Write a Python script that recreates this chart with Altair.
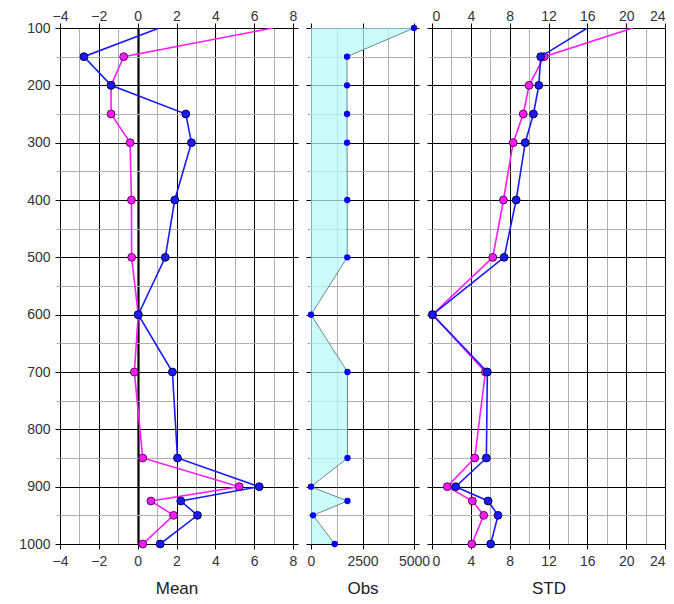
import altair as alt
import pandas as pd

# ---------------- data ----------------
LEVELS = [100, 150, 200, 250, 300, 400, 500, 600, 700, 850, 900, 925, 950, 1000]
MEAN_BLUE = [1.11, -2.77, -1.37, 2.48, 2.77, 1.91, 1.42, 0.03, 1.79, 2.05, 6.26, 2.22, 3.08, 1.16]
MEAN_MAGENTA = [6.97, -0.72, -1.37, -1.37, -0.39, -0.32, -0.31, 0.03, -0.17, 0.26, 5.23, 0.68, 1.85, 0.26]
STD_BLUE = [16.0, 11.2, 11.0, 10.45, 9.6, 8.67, 7.43, 0.05, 5.7, 5.6, 2.44, 5.78, 6.8, 6.05]
STD_MAGENTA = [20.7, 11.55, 10.0, 9.4, 8.36, 7.36, 6.26, 0.05, 5.5, 4.4, 1.58, 4.16, 5.33, 4.1]
OBS = [5000, 1750, 1750, 1750, 1750, 1760, 1760, 0, 1770, 1770, 0, 1770, 100, 1150]

Y_MAJOR = [100, 200, 300, 400, 500, 600, 700, 800, 900, 1000]
Y_MINOR = [150, 250, 350, 450, 550, 650, 750, 850, 950]
MEAN_MAJOR = [-4, -2, 0, 2, 4, 6, 8]
MEAN_MINOR = [-3, -1, 1, 3, 5, 7]
OBS_MAJOR = [0, 2500, 5000]
OBS_MINOR = [1250, 3750]
STD_MAJOR = [0, 4, 8, 12, 16, 20, 24]
STD_MINOR = [2, 6, 10, 14, 18, 22]

prof = pd.DataFrame({
    "level": LEVELS,
    "mean_blue": MEAN_BLUE,
    "mean_magenta": MEAN_MAGENTA,
    "std_blue": STD_BLUE,
    "std_magenta": STD_MAGENTA,
    "obs": OBS,
})

FONT = "Liberation Sans"
TXT = "#333333"
MINOR = "#b0b0b0"
BLUE = "#1a1aff"
MAGENTA = "#ff1aff"
LFS = 14
H = 516


def yscale():
    return alt.Scale(domain=[100, 1000], reverse=True, nice=False, zero=False)


def axis_layers(xf, xdomain, major, minor, title, y_labels, top_labels,
                zero_line=False, flush=False, right_ticks=5):
    xs = alt.Scale(domain=xdomain, nice=False, zero=False)
    ghost = alt.Chart(prof).mark_point(opacity=0)
    layers = []
    # minor grid
    layers.append(ghost.encode(
        x=alt.X(f"{xf}:Q", scale=xs, axis=alt.Axis(
            orient="bottom", values=minor, grid=True, gridColor=MINOR, gridWidth=1,
            labels=False, ticks=False, domain=False, title=None)),
        y=alt.Y("level:Q", scale=yscale(), axis=alt.Axis(
            orient="left", values=Y_MINOR, grid=True, gridColor=MINOR, gridWidth=1,
            labels=False, ticks=True, tickColor=MINOR, tickSize=4, domain=False, title=None)),
    ))
    # major grid, bottom labels, left labels
    layers.append(ghost.encode(
        x=alt.X(f"{xf}:Q", scale=xs, axis=alt.Axis(
            orient="bottom", values=major, grid=True, gridColor="black", gridWidth=1,
            ticks=True, tickColor="black", tickSize=5, labels=True, labelPadding=5,
            labelFont=FONT, labelFontSize=LFS, labelColor=TXT,
            labelFlush=flush, labelOverlap=False, labelBound=False, format="d",
            domain=False, title=title, titlePadding=12, titleFontSize=17,
            titleFont=FONT, titleFontWeight="normal", titleColor="#222222")),
        y=alt.Y("level:Q", scale=yscale(), axis=alt.Axis(
            orient="left", values=Y_MAJOR, grid=True, gridColor="black", gridWidth=1,
            ticks=True, tickColor="black", tickSize=5, labels=y_labels, labelPadding=5,
            labelFont=FONT, labelFontSize=LFS, labelColor=TXT,
            labelFlush=False, labelOverlap=False, format="d", domain=False, title=None)),
    ))
    # top & right ticks
    layers.append(ghost.encode(
        x=alt.X(f"{xf}:Q", scale=xs, axis=alt.Axis(
            orient="top", values=major, grid=False, ticks=True, tickColor="black",
            tickSize=5, labels=top_labels, labelPadding=0, labelFlush=flush,
            labelFont=FONT, labelFontSize=LFS, labelColor=TXT,
            labelOverlap=False, labelBound=False, format="d", domain=False, title=None)),
        y=alt.Y("level:Q", scale=yscale(), axis=alt.Axis(
            orient="right", values=Y_MAJOR, grid=False, ticks=right_ticks > 0, tickColor="black",
            tickSize=max(right_ticks, 1), labels=False, domain=False, title=None)),
    ))
    if zero_line:
        layers.append(ghost.encode(
            x=alt.X(f"{xf}:Q", scale=xs, axis=alt.Axis(
                orient="bottom", values=[0], grid=True, gridColor="black", gridWidth=2.2,
                labels=False, ticks=False, domain=False, title=None)),
            y=alt.Y("level:Q", scale=yscale(), axis=None),
        ))
    return layers


def series_layers(field, xdomain, color, stroke):
    xs = alt.Scale(domain=xdomain, nice=False, zero=False)
    base = alt.Chart(prof)
    line = base.mark_line(color=color, strokeWidth=1.6, clip=True).encode(
        x=alt.X(f"{field}:Q", scale=xs, axis=None),
        y=alt.Y("level:Q", scale=yscale(), axis=None),
        order=alt.Order("level:Q"),
    )
    pts = base.transform_filter(alt.datum.level > 100).mark_point(
        filled=True, fill=color, stroke=stroke, strokeWidth=0.9, size=62, opacity=1
    ).encode(
        x=alt.X(f"{field}:Q", scale=xs, axis=None),
        y=alt.Y("level:Q", scale=yscale(), axis=None),
    )
    return [line, pts]


def profile_panel(prefix, xdomain, major, minor, title, y_labels, zero_line, width,
                  flush=False, right_ticks=5):
    layers = axis_layers(f"{prefix}_blue", xdomain, major, minor, title, y_labels, True,
                         zero_line, flush, right_ticks)
    layers += series_layers(f"{prefix}_magenta", xdomain, MAGENTA, "#440044")
    layers += series_layers(f"{prefix}_blue", xdomain, BLUE, "#000033")
    return alt.layer(*layers).resolve_axis(x="independent", y="independent").properties(
        width=width, height=H)


mean_panel = profile_panel("mean", [-4, 8], MEAN_MAJOR, MEAN_MINOR, "Mean", True, True, 233)
std_panel = profile_panel("std", [0, 24], STD_MAJOR, STD_MINOR, "STD", False, False, 233,
                          flush=True, right_ticks=0)

obs_xs = alt.Scale(domain=[0, 5000], nice=False, zero=False)
obs_layers = axis_layers("obs", [0, 5000], OBS_MAJOR, OBS_MINOR, "Obs", False, False)
obs_area = alt.Chart(prof).mark_area(
    orient="horizontal", color="#b8fafa", opacity=0.72
).encode(
    x=alt.X("obs:Q", scale=obs_xs, axis=None, stack=None),
    y=alt.Y("level:Q", scale=yscale(), axis=None),
)
obs_line = alt.Chart(prof).mark_line(color="#5f8f8f", strokeWidth=1).encode(
    x=alt.X("obs:Q", scale=obs_xs, axis=None),
    y=alt.Y("level:Q", scale=yscale(), axis=None),
    order=alt.Order("level:Q"),
)
obs_pts = alt.Chart(prof).mark_point(filled=True, fill="#0000ee", stroke=None, size=40, opacity=1).encode(
    x=alt.X("obs:Q", scale=obs_xs, axis=None),
    y=alt.Y("level:Q", scale=yscale(), axis=None),
)
obs_panel = alt.layer(*obs_layers, obs_area, obs_line, obs_pts).resolve_axis(
    x="independent", y="independent").properties(width=103, height=H)

chart = alt.hconcat(mean_panel, obs_panel, std_panel, spacing=18, bounds="flush").properties(
    padding={"left": 10, "top": 0, "right": 0, "bottom": 0}
).configure_view(
    stroke="black", strokeWidth=2
).configure(background="white")

chart.save("out.html", embed_options={"renderer": "svg", "actions": False})
